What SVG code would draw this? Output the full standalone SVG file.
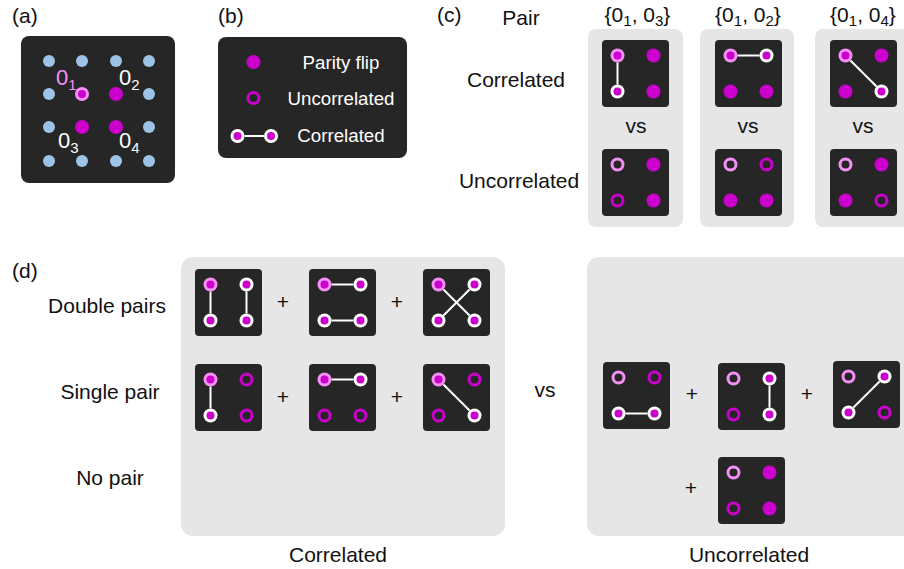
<svg xmlns="http://www.w3.org/2000/svg" xmlns:xlink="http://www.w3.org/1999/xlink" width="904" height="569" viewBox="0 0 904 569">
<style>
text{font-family:"Liberation Sans",Arial,sans-serif;font-size:21px;fill:#111}
.w{fill:#fff}
.pk{fill:#f590f5}
.lab{font-size:22px}
.leg{font-size:18.7px;fill:#fff}
.sub{font-size:15px}
.dark{fill:#262626}
.gray{fill:#e6e6e6}
.con line{stroke:#fff;stroke-width:2;stroke-linecap:butt}
</style>
<defs>
<g id="pf"><circle r="7" fill="#cc00cc"/></g>
<g id="ring"><circle r="5.5" fill="none" stroke="#cc00cc" stroke-width="3"/></g>
<g id="pring"><circle r="5.5" fill="none" stroke="#f590f5" stroke-width="3"/></g>
<g id="cor"><circle r="7" fill="#fff"/><circle r="4" fill="#cc00cc"/></g>
<g id="org"><circle r="7" fill="#f590f5"/><circle r="4" fill="#cc00cc"/></g>
<g id="blue"><circle r="6" fill="#9dc3e6"/></g>
</defs>
<rect width="904" height="569" fill="#fff"/>

<!-- panel labels -->
<text x="12" y="23">(a)</text>
<text x="218" y="23">(b)</text>
<text x="437" y="22">(c)</text>
<text x="12" y="278">(d)</text>

<!-- (a) lattice -->
<g id="lattice">
<rect x="21" y="36" width="154" height="147" rx="8" class="dark"/>
<use href="#blue" x="49" y="61"/><use href="#blue" x="82" y="61"/><use href="#blue" x="116" y="61"/><use href="#blue" x="149" y="61"/>
<use href="#blue" x="49" y="94"/><use href="#org" x="82" y="94"/><use href="#pf" x="116" y="94"/><use href="#blue" x="149" y="94"/>
<use href="#blue" x="49" y="127"/><use href="#pf" x="82" y="127"/><use href="#pf" x="116" y="127"/><use href="#blue" x="149" y="127"/>
<use href="#blue" x="49" y="161"/><use href="#blue" x="82" y="161"/><use href="#blue" x="116" y="161"/><use href="#blue" x="149" y="161"/>
<text x="56" y="85" class="pk lab">0<tspan class="sub" dy="5">1</tspan></text>
<text x="119" y="85" class="w lab">0<tspan class="sub" dy="5">2</tspan></text>
<text x="58" y="148" class="w lab">0<tspan class="sub" dy="5">3</tspan></text>
<text x="119" y="148" class="w lab">0<tspan class="sub" dy="5">4</tspan></text>
</g>

<!-- (b) legend -->
<g id="legend">
<rect x="218" y="37" width="189" height="121" rx="8" class="dark"/>
<use href="#pf" x="253.5" y="62"/>
<use href="#ring" x="253.5" y="98"/>
<use href="#cor" x="237.5" y="136"/>
<use href="#cor" x="271" y="136"/>
<text x="341" y="69" class="leg" text-anchor="middle">Parity flip</text>
<text x="341" y="105" class="leg" text-anchor="middle">Uncorrelated</text>
<text x="341" y="142" class="leg" text-anchor="middle">Correlated</text>
</g>

<!-- (c) -->
<text x="521" y="25" text-anchor="middle">Pair</text>
<text x="516" y="87" text-anchor="middle">Correlated</text>
<text x="519" y="188" text-anchor="middle">Uncorrelated</text>
<text x="637.5" y="22" text-anchor="middle">{0<tspan class="sub" dy="4">1</tspan><tspan dy="-4">, 0</tspan><tspan class="sub" dy="4">3</tspan><tspan dy="-4">}</tspan></text>
<text x="748" y="22" text-anchor="middle">{0<tspan class="sub" dy="4">1</tspan><tspan dy="-4">, 0</tspan><tspan class="sub" dy="4">2</tspan><tspan dy="-4">}</tspan></text>
<text x="863" y="22" text-anchor="middle">{0<tspan class="sub" dy="4">1</tspan><tspan dy="-4">, 0</tspan><tspan class="sub" dy="4">4</tspan><tspan dy="-4">}</tspan></text>

<g id="c-col1"><rect x="588" y="29" width="95" height="198" rx="8" class="gray"/></g>
<g id="c-col2"><rect x="700" y="29" width="94" height="198" rx="8" class="gray"/></g>
<g id="c-col3"><rect x="815" y="29" width="95" height="198" rx="8" class="gray"/></g>
<text x="636" y="133" text-anchor="middle">vs</text>
<text x="748" y="133" text-anchor="middle">vs</text>
<text x="863" y="133" text-anchor="middle">vs</text>

<g id="c1-cor" transform="translate(602,40)">
<rect width="67" height="67" rx="4" class="dark"/>
<use href="#org" x="15.5" y="15.5"/><use href="#pf" x="51.5" y="15.5"/>
<use href="#cor" x="15.5" y="51.5"/><use href="#pf" x="51.5" y="51.5"/>
</g>
<g id="c1-unc" transform="translate(602,149)">
<rect width="67" height="67" rx="4" class="dark"/>
<use href="#pring" x="15.5" y="15.5"/><use href="#pf" x="51.5" y="15.5"/>
<use href="#ring" x="15.5" y="51.5"/><use href="#pf" x="51.5" y="51.5"/>
</g>
<g id="c2-cor" transform="translate(715,40)">
<rect width="67" height="67" rx="4" class="dark"/>
<use href="#org" x="15.5" y="15.5"/><use href="#cor" x="51.5" y="15.5"/>
<use href="#pf" x="15.5" y="51.5"/><use href="#pf" x="51.5" y="51.5"/>
</g>
<g id="c2-unc" transform="translate(715,149)">
<rect width="67" height="67" rx="4" class="dark"/>
<use href="#pring" x="15.5" y="15.5"/><use href="#ring" x="51.5" y="15.5"/>
<use href="#pf" x="15.5" y="51.5"/><use href="#pf" x="51.5" y="51.5"/>
</g>
<g id="c3-cor" transform="translate(830,40)">
<rect width="67" height="67" rx="4" class="dark"/>
<use href="#org" x="15.5" y="15.5"/><use href="#pf" x="51.5" y="15.5"/>
<use href="#pf" x="15.5" y="51.5"/><use href="#cor" x="51.5" y="51.5"/>
</g>
<g id="c3-unc" transform="translate(830,149)">
<rect width="67" height="67" rx="4" class="dark"/>
<use href="#pring" x="15.5" y="15.5"/><use href="#pf" x="51.5" y="15.5"/>
<use href="#pf" x="15.5" y="51.5"/><use href="#ring" x="51.5" y="51.5"/>
</g>

<!-- (d) -->
<text x="107" y="313" text-anchor="middle">Double pairs</text>
<text x="110" y="399" text-anchor="middle">Single pair</text>
<text x="110" y="485" text-anchor="middle">No pair</text>
<g id="d-correlated"><rect x="181" y="257" width="324" height="279" rx="12" class="gray"/></g>
<g id="d-uncorrelated"><rect x="587" y="257" width="330" height="279" rx="12" class="gray"/></g>
<text x="338" y="562" text-anchor="middle">Correlated</text>
<text x="749" y="562" text-anchor="middle">Uncorrelated</text>
<text x="545" y="397" text-anchor="middle">vs</text>

<text x="283" y="308.5" text-anchor="middle">+</text>
<text x="397" y="308.5" text-anchor="middle">+</text>
<text x="283" y="404" text-anchor="middle">+</text>
<text x="397" y="404" text-anchor="middle">+</text>
<text x="692" y="400.5" text-anchor="middle">+</text>
<text x="807" y="400.5" text-anchor="middle">+</text>
<text x="691" y="495" text-anchor="middle">+</text>

<g id="d-dbl-1" transform="translate(195,269)">
<rect width="67" height="67" rx="4" class="dark"/>
<use href="#org" x="15.5" y="15.5"/><use href="#cor" x="51.5" y="15.5"/>
<use href="#cor" x="15.5" y="51.5"/><use href="#cor" x="51.5" y="51.5"/>
</g>
<g id="d-dbl-2" transform="translate(309,269)">
<rect width="67" height="67" rx="4" class="dark"/>
<use href="#org" x="15.5" y="15.5"/><use href="#cor" x="51.5" y="15.5"/>
<use href="#cor" x="15.5" y="51.5"/><use href="#cor" x="51.5" y="51.5"/>
</g>
<g id="d-dbl-3" transform="translate(423,269)">
<rect width="67" height="67" rx="4" class="dark"/>
<use href="#org" x="15.5" y="15.5"/><use href="#cor" x="51.5" y="15.5"/>
<use href="#cor" x="15.5" y="51.5"/><use href="#cor" x="51.5" y="51.5"/>
</g>
<g id="d-sgl-1" transform="translate(195,364)">
<rect width="67" height="67" rx="4" class="dark"/>
<use href="#org" x="15.5" y="15.5"/><use href="#ring" x="51.5" y="15.5"/>
<use href="#cor" x="15.5" y="51.5"/><use href="#ring" x="51.5" y="51.5"/>
</g>
<g id="d-sgl-2" transform="translate(309,364)">
<rect width="67" height="67" rx="4" class="dark"/>
<use href="#org" x="15.5" y="15.5"/><use href="#cor" x="51.5" y="15.5"/>
<use href="#ring" x="15.5" y="51.5"/><use href="#ring" x="51.5" y="51.5"/>
</g>
<g id="d-sgl-3" transform="translate(423,364)">
<rect width="67" height="67" rx="4" class="dark"/>
<use href="#org" x="15.5" y="15.5"/><use href="#ring" x="51.5" y="15.5"/>
<use href="#ring" x="15.5" y="51.5"/><use href="#cor" x="51.5" y="51.5"/>
</g>
<g id="d-unc-1" transform="translate(603,362)">
<rect width="67" height="67" rx="4" class="dark"/>
<use href="#pring" x="15.5" y="15.5"/><use href="#ring" x="51.5" y="15.5"/>
<use href="#cor" x="15.5" y="51.5"/><use href="#cor" x="51.5" y="51.5"/>
</g>
<g id="d-unc-2" transform="translate(718,363)">
<rect width="67" height="67" rx="4" class="dark"/>
<use href="#pring" x="15.5" y="15.5"/><use href="#cor" x="51.5" y="15.5"/>
<use href="#ring" x="15.5" y="51.5"/><use href="#cor" x="51.5" y="51.5"/>
</g>
<g id="d-unc-3" transform="translate(833,361)">
<rect width="67" height="67" rx="4" class="dark"/>
<use href="#pring" x="15.5" y="15.5"/><use href="#cor" x="51.5" y="15.5"/>
<use href="#cor" x="15.5" y="51.5"/><use href="#ring" x="51.5" y="51.5"/>
</g>
<g id="d-none" transform="translate(718,457)">
<rect width="67" height="67" rx="4" class="dark"/>
<use href="#pring" x="15.5" y="15.5"/><use href="#pf" x="51.5" y="15.5"/>
<use href="#ring" x="15.5" y="51.5"/><use href="#pf" x="51.5" y="51.5"/>
</g>

<!-- connectors -->
<g id="connectors" class="con">
<line x1="244.5" y1="136" x2="264" y2="136"/>
<line x1="617.5" y1="62.5" x2="617.5" y2="84.5"/>
<line x1="737.5" y1="55.5" x2="759.5" y2="55.5"/>
<line x1="850.45" y1="60.45" x2="876.55" y2="86.55"/>
<line x1="210.5" y1="291.5" x2="210.5" y2="313.5"/>
<line x1="246.5" y1="291.5" x2="246.5" y2="313.5"/>
<line x1="331.5" y1="284.5" x2="353.5" y2="284.5"/>
<line x1="331.5" y1="320.5" x2="353.5" y2="320.5"/>
<line x1="443.45" y1="289.45" x2="469.55" y2="315.55"/>
<line x1="469.55" y1="289.45" x2="443.45" y2="315.55"/>
<line x1="210.5" y1="386.5" x2="210.5" y2="408.5"/>
<line x1="331.5" y1="379.5" x2="353.5" y2="379.5"/>
<line x1="443.45" y1="384.45" x2="469.55" y2="410.55"/>
<line x1="625.5" y1="413.5" x2="647.5" y2="413.5"/>
<line x1="769.5" y1="385.5" x2="769.5" y2="407.5"/>
<line x1="879.55" y1="381.45" x2="853.45" y2="407.55"/>
</g>
</svg>
